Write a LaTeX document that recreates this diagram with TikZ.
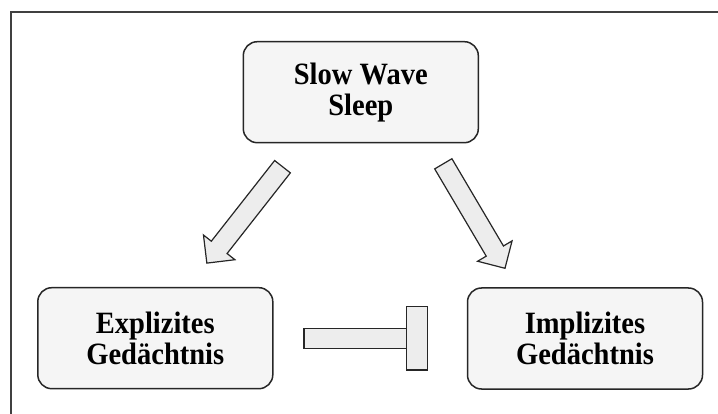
\documentclass[tikz,border=0pt]{standalone}
\usepackage{fontspec}
\setmainfont{Liberation Serif}
\newfontfamily\boxfont[FakeStretch=0.92]{Liberation Serif}
\usetikzlibrary{calc}

% block arrow from tail (#1) to tip (#2)
\newcommand{\blockarrow}[2]{%
  \draw[arrowbody] let \p1=($(#2)-(#1)$), \n1={atan2(\y1,\x1)}, \n2={veclen(\x1,\y1)} in
    [shift={(#1)},rotate=\n1] (0pt,-10pt) -- (\n2-20pt,-10pt) -- (\n2-20pt,-20pt) -- (\n2,0pt)
    -- (\n2-20pt,20pt) -- (\n2-20pt,10pt) -- (0pt,10pt) -- cycle;}

\begin{document}
\begin{tikzpicture}[x=1pt,y=-1pt,
  box/.style={draw=black!85,line width=1.5pt,rounded corners=14pt,fill=gray!8,
    minimum width=235pt,minimum height=101pt,align=center,
    font=\boxfont\fontsize{31}{31}\selectfont\bfseries},
  arrowbody/.style={draw=black!85,line width=1.2pt,fill=gray!14,line join=miter}]

  \useasboundingbox (0,0) rectangle (718,414);
  \draw[line width=1.6pt,color=black!75] (10.7,414) -- (10.7,12) -- (718,12);

  \node[box] (sws) at (360.8,92.2) {Slow Wave\\Sleep};
  \node[box] (exp) at (155.3,338.2) {Explizites\\Ged\"achtnis};
  \node[box] (imp) at (585,338.5) {Implizites\\Ged\"achtnis};

  \coordinate (swsL) at (282.5,166.7);
  \coordinate (expT) at (206.7,263.3);
  \coordinate (swsR) at (443.3,163.8);
  \coordinate (impT) at (505,268.3);
  \blockarrow{swsL}{expT}
  \blockarrow{swsR}{impT}

  % inhibition
  \coordinate (inhS) at ($(exp.east)+(30.5,0)$);
  \coordinate (inhE) at (427.3,338.3);
  \draw[arrowbody] ($(inhS)+(0,-10)$) rectangle ($(inhE)+(-20,10)$);
  \draw[arrowbody] ($(inhE)+(-21,-31.6)$) rectangle ($(inhE)+(0,31.6)$);

\end{tikzpicture}
\end{document}
